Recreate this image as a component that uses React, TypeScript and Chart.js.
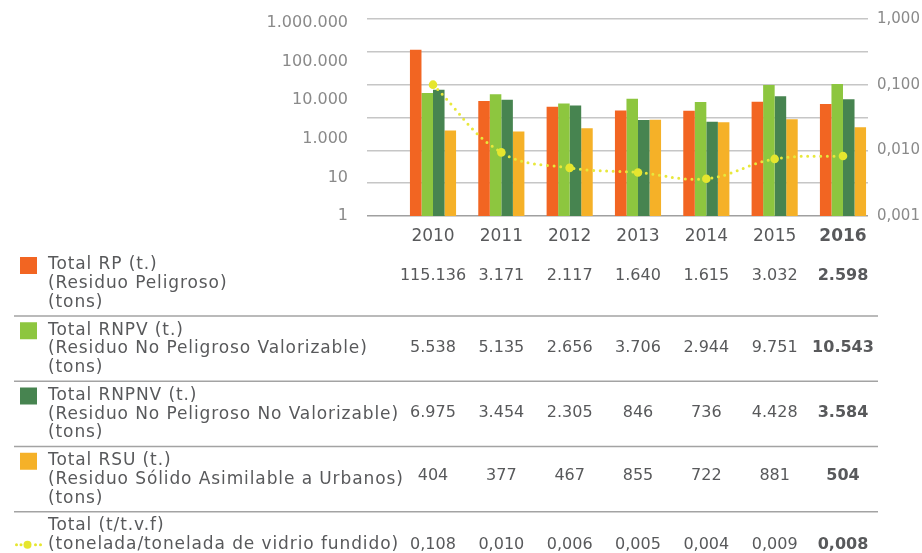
import React, { useEffect, useRef } from "react";
import { Chart, registerables } from "chart.js";

Chart.register(...registerables);

// ---------- data ----------
const years = [2010, 2011, 2012, 2013, 2014, 2015, 2016];
const rpValues = [115136, 3171, 2117, 1640, 1615, 3032, 2598];
const rnpvValues = [5538, 5135, 2656, 3706, 2944, 9751, 10543];
const rnpnvValues = [6975, 3454, 2305, 846, 736, 4428, 3584];
const rsuValues = [404, 377, 467, 855, 722, 881, 504];
const ratioValues = [0.1, 0.0093, 0.0054, 0.0046, 0.0037, 0.0074, 0.0082];
const ratioTableText = ["0,108", "0,010", "0,006", "0,005", "0,004", "0,009", "0,008"];
const leftTickLabels = ["1", "10", "1.000", "10.000", "100.000", "1.000.000"];
const leftGridValues = [1, 10, 100, 1000, 10000, 100000, 1000000];
const rightTickValues = [0.001, 0.01, 0.1, 1];
const rightTickLabels = ["0,001", "0,010", "0,100", "1,000"];

const rpLabel = ["Total RP (t.)", "(Residuo Peligroso)", "(tons)"];
const rnpvLabel = ["Total RNPV (t.)", "(Residuo No Peligroso Valorizable)", "(tons)"];
const rnpnvLabel = ["Total RNPNV (t.)", "(Residuo No Peligroso No Valorizable)", "(tons)"];
const rsuLabel = ["Total RSU (t.)", "(Residuo Sólido Asimilable a Urbanos)", "(tons)"];
const ratioLabel = ["Total (t/t.v.f)", "(tonelada/tonelada de vidrio fundido)"];

const COLORS = {
  rp: "#F26522",
  rnpv: "#8DC63F",
  rnpnv: "#478450",
  rsu: "#F5B128",
  ratio: "#E6E62E",
  text: "#58595B",
  axis: "#8A8A8A",
};

const FONT = "DejaVu Sans";

const fmt = (n: number) => String(n).replace(/\B(?=(\d{3})+(?!\d))/g, ".");

const tableRows = [
  { lines: rpLabel, color: COLORS.rp, values: rpValues.map(fmt), valueDy: 11 },
  { lines: rnpvLabel, color: COLORS.rnpv, values: rnpvValues.map(fmt), valueDy: 18 },
  { lines: rnpnvLabel, color: COLORS.rnpnv, values: rnpnvValues.map(fmt), valueDy: 17.5 },
  { lines: rsuLabel, color: COLORS.rsu, values: rsuValues.map(fmt), valueDy: 15 },
  { lines: ratioLabel, color: null as string | null, values: ratioTableText, valueDy: 18.7 },
];

const tablePlugin = {
  id: "dataTable",
  afterDraw(chart: any) {
    const ctx = chart.ctx as any;
    const xs = chart.scales.x;
    ctx.save();
    const rowStart = 265;
    const rowStep = 65.25;
    const lineH = 18.7;
    tableRows.forEach((row, r) => {
      const top = rowStart + r * rowStep;
      // marker
      if (row.color) {
        ctx.fillStyle = row.color;
        ctx.fillRect(20, top - 8, 17, 17);
      } else {
        const my = top + lineH;
        ctx.fillStyle = COLORS.ratio;
        [16.5, 21, 35.5, 40.5].forEach((dx) => {
          ctx.beginPath();
          ctx.arc(dx, my, 1.5, 0, Math.PI * 2);
          ctx.fill();
        });
        ctx.beginPath();
        ctx.arc(27.5, my, 4, 0, Math.PI * 2);
        ctx.fill();
      }
      // label lines
      ctx.fillStyle = COLORS.text;
      ctx.font = `17px "${FONT}"`;
      ctx.letterSpacing = "0.9px";
      ctx.textAlign = "left";
      ctx.textBaseline = "middle";
      row.lines.forEach((t: string, i: number) => ctx.fillText(t, 48, top + i * lineH));
      ctx.letterSpacing = "0px";
      // values
      ctx.textAlign = "center";
      row.values.forEach((v: string, i: number) => {
        const bold = i === row.values.length - 1;
        ctx.font = `${bold ? "bold " : ""}16px "${FONT}"`;
        ctx.fillText(v, xs.getPixelForValue(years[i]), top + row.valueDy);
      });
      // separator
      if (r < tableRows.length - 1) {
        const sy = top + 51;
        ctx.strokeStyle = "#A3A3A3";
        ctx.lineWidth = 1.3;
        ctx.beginPath();
        ctx.moveTo(14, sy);
        ctx.lineTo(878, sy);
        ctx.stroke();
      }
    });
    ctx.restore();
  },
};

export default function App() {
  const canvasRef = useRef<HTMLCanvasElement | null>(null);

  useEffect(() => {
    if (!canvasRef.current) return;
    Chart.defaults.font.family = FONT;
    const toXY = (vals: number[]) => years.map((x, i) => ({ x, y: vals[i] }));
    const barBase = {
      type: "bar" as const,
      xAxisID: "x",
      yAxisID: "y",
      categoryPercentage: 0.675,
      barPercentage: 1,
      borderWidth: 0,
      order: 1,
    };
    const noPad = (s: any) => {
      s.paddingTop = 0;
      s.paddingBottom = 0;
    };
    const chart = new Chart(canvasRef.current, {
      type: "bar",
      data: {
        datasets: [
          {
            type: "line",
            label: "Total (t/t.v.f)",
            data: toXY(ratioValues),
            xAxisID: "x",
            yAxisID: "y2",
            borderColor: "#E8E83C",
            borderWidth: 3,
            borderDash: [0, 6.6],
            borderCapStyle: "round",
            tension: 0.4,
            fill: false,
            pointRadius: 4.3,
            pointBackgroundColor: COLORS.ratio,
            pointBorderWidth: 0,
            order: 0,
          } as any,
          { ...barBase, label: "Total RP (t.)", data: toXY(rpValues), backgroundColor: COLORS.rp },
          { ...barBase, label: "Total RNPV (t.)", data: toXY(rnpvValues), backgroundColor: COLORS.rnpv },
          { ...barBase, label: "Total RNPNV (t.)", data: toXY(rnpnvValues), backgroundColor: COLORS.rnpnv },
          { ...barBase, label: "Total RSU (t.)", data: toXY(rsuValues), backgroundColor: COLORS.rsu },
        ] as any,
      },
      options: {
        responsive: false,
        animation: false,
        devicePixelRatio: 1,
        layout: { padding: { top: 19, left: 0, right: 0, bottom: 0 } },
        plugins: { legend: { display: false }, tooltip: { enabled: false } },
        scales: {
          x: {
            type: "linear",
            offset: false,
            min: 2009.034,
            max: 2016.366,
            afterBuildTicks: (s: any) => {
              s.ticks = years.map((v) => ({ value: v }));
            },
            afterFit: (s: any) => {
              s.height = 553 - 216;
              s.paddingLeft = 0;
              s.paddingRight = 0;
            },
            grid: { display: false, drawTicks: false },
            border: { display: false },
            ticks: {
              padding: 10,
              color: COLORS.text,
              autoSkip: false,
              maxRotation: 0,
              callback: (v: any) => String(v),
              font: (c: any) => ({
                family: FONT,
                size: 17,
                weight: c.tick && c.tick.value === 2016 ? "bold" : "normal",
              }),
            },
          },
          y: {
            type: "logarithmic",
            position: "left",
            min: 1,
            max: 1000000,
            afterBuildTicks: (s: any) => {
              s.ticks = leftGridValues.map((v) => ({ value: v }));
            },
            afterFit: (s: any) => {
              s.width = 0;
              noPad(s);
            },
            ticks: { display: false },
            border: { display: false },
            grid: {
              drawTicks: false,
              lineWidth: 1.5,
              color: (c: any) => (c.tick && c.tick.value === 1 ? "#A0A0A0" : "#C6C6C6"),
            },
          },
          yl: {
            type: "linear",
            position: "left",
            min: 0,
            max: 5.1,
            afterBuildTicks: (s: any) => {
              s.ticks = leftTickLabels.map((_, i) => ({ value: i }));
            },
            afterFit: (s: any) => {
              s.width = 367;
              noPad(s);
            },
            grid: { display: false, drawTicks: false },
            border: { display: false },
            ticks: {
              padding: 19,
              color: COLORS.axis,
              font: { family: FONT, size: 16 },
              callback: (v: any) => leftTickLabels[Math.round(v)],
            },
          },
          y2: {
            type: "logarithmic",
            position: "right",
            min: 0.001,
            max: 1,
            afterBuildTicks: (s: any) => {
              s.ticks = rightTickValues.map((v) => ({ value: v }));
            },
            afterFit: (s: any) => {
              s.width = 922 - 868;
              noPad(s);
            },
            grid: { display: false, drawTicks: false },
            border: { display: false },
            ticks: {
              padding: 9,
              color: COLORS.axis,
              font: { family: FONT, size: 15 },
              callback: (_v: any, i: number) => rightTickLabels[i],
            },
          },
        },
      } as any,
      plugins: [tablePlugin],
    });
    return () => chart.destroy();
  }, []);

  return (
    <div style={{ position: "absolute", left: 0, top: 0, width: 922, height: 553, background: "#fff" }}>
      <canvas ref={canvasRef} width={922} height={553} style={{ width: 922, height: 553, display: "block" }} />
    </div>
  );
}
